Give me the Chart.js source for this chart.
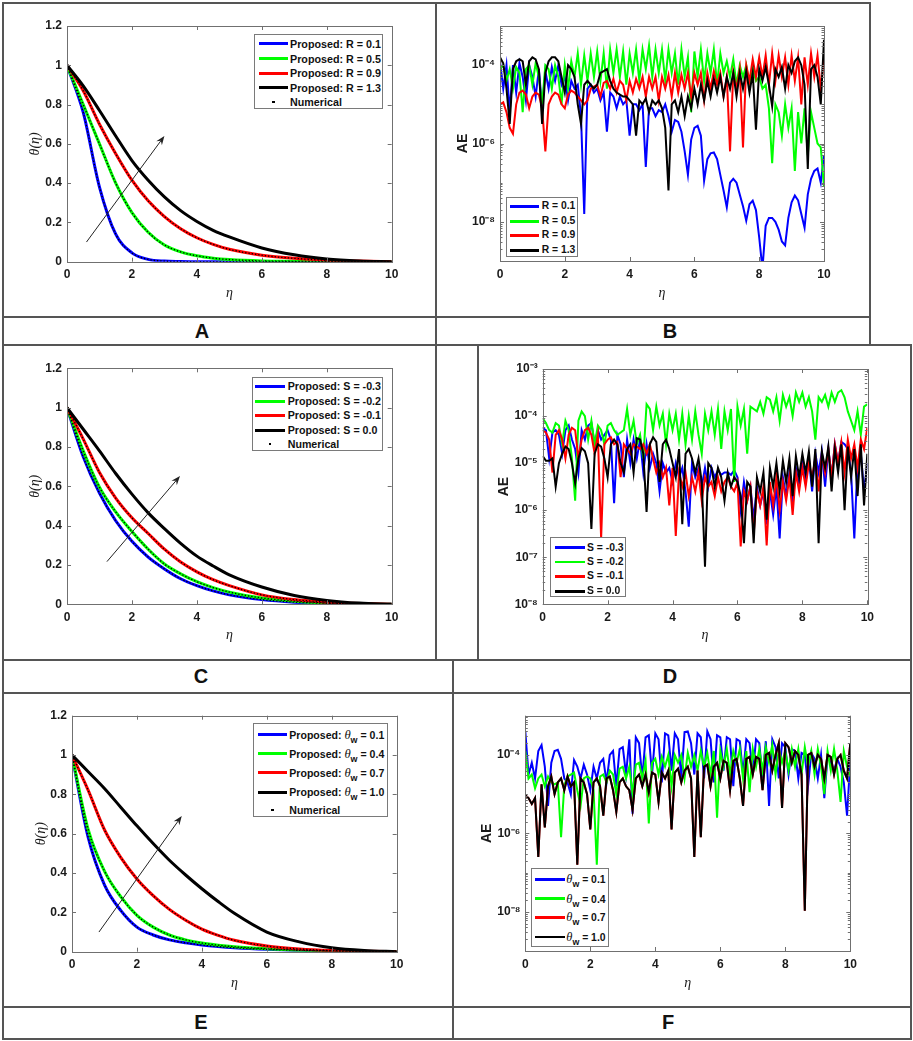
<!DOCTYPE html>
<html>
<head>
<meta charset="utf-8">
<script src="https://cdn.jsdelivr.net/npm/chart.js@4.4.1/dist/chart.umd.min.js"></script>
<style>
html, body { margin: 0; padding: 0; background: #fff; }
#fig { position: relative; width: 913px; height: 1041px; overflow: hidden; background: #fff; }
.ln { position: absolute; background: #555; }
.lab { position: absolute; font: bold 20px 'Liberation Sans', Arial, sans-serif; color: #111; transform: translate(-50%, -50%); }
canvas { position: absolute; }
.leg { position: absolute; background: #fff; border: 1px solid #7a7a7a; box-sizing: border-box; }
.leg .row { position: absolute; left: 0; right: 0; height: 14px; }
.leg .sw { position: absolute; }
.leg .tx { position: absolute; top: 0; line-height: 14px; font-family: 'Liberation Sans', Arial, sans-serif; font-weight: bold; font-size: 10.5px; font-stretch: normal; color: #111; white-space: nowrap; }
.leg .tx i { font-family: 'Liberation Serif', serif; font-weight: normal; font-size: 1.2em; }
.leg .tx sub { font-size: 0.85em; vertical-align: -0.45em; line-height: 0; }
</style>
</head>
<body>
<div id="fig">
  <canvas id="cA" width="428" height="310" style="left:4px;top:4px"></canvas>
  <canvas id="cB" width="430" height="310" style="left:437px;top:4px"></canvas>
  <canvas id="cC" width="428" height="311" style="left:4px;top:346px"></canvas>
  <canvas id="cD" width="429" height="311" style="left:479px;top:346px"></canvas>
  <canvas id="cE" width="446" height="310" style="left:4px;top:694px"></canvas>
  <canvas id="cF" width="454" height="310" style="left:454px;top:694px"></canvas>
</div>
<script>
// ---- data ----
const seriesColors = ['#0000ff', '#00ff00', '#ff0000', '#000000'];
const etaTicks = [0, 2, 4, 6, 8, 10];
const thetaTicks = [0, 0.2, 0.4, 0.6, 0.8, 1, 1.2];
const aeTicksBF = [-8, -6, -4];          // exponents of 10
const aeTicksD = [-8, -7, -6, -5, -4, -3];

// theta profiles, sampled at etaTheta
const etaTheta = [0, 0.5, 1, 1.5, 2, 2.5, 3, 3.5, 4, 4.5, 5, 6, 7, 8, 9, 10];
const thetaR01 = [1, 0.76, 0.38, 0.14, 0.045, 0.012, 0.003, 0.001, 0, 0, 0, 0, 0, 0, 0, 0];
const thetaR05 = [1, 0.80, 0.60, 0.40, 0.25, 0.15, 0.085, 0.05, 0.03, 0.018, 0.011, 0.004, 0.002, 0.001, 0, 0];
const thetaR09 = [1, 0.87, 0.70, 0.55, 0.415, 0.31, 0.23, 0.168, 0.122, 0.088, 0.063, 0.033, 0.017, 0.008, 0.003, 0];
const thetaR13 = [1, 0.895, 0.77, 0.64, 0.515, 0.415, 0.33, 0.26, 0.205, 0.16, 0.126, 0.07, 0.035, 0.014, 0.004, 0];

const thetaSm03 = [1, 0.75, 0.565, 0.425, 0.32, 0.24, 0.18, 0.13, 0.095, 0.068, 0.048, 0.024, 0.011, 0.005, 0.002, 0];
const thetaSm02 = [1, 0.78, 0.595, 0.47, 0.37, 0.28, 0.205, 0.155, 0.115, 0.085, 0.062, 0.032, 0.016, 0.007, 0.002, 0];
const thetaSm01 = [1, 0.84, 0.67, 0.54, 0.44, 0.36, 0.28, 0.215, 0.165, 0.125, 0.095, 0.048, 0.024, 0.011, 0.004, 0];
const thetaS00  = [1, 0.89, 0.78, 0.665, 0.56, 0.465, 0.385, 0.31, 0.245, 0.195, 0.15, 0.088, 0.045, 0.02, 0.006, 0];

const thetaW01 = [1, 0.58, 0.34, 0.21, 0.125, 0.085, 0.06, 0.045, 0.034, 0.026, 0.02, 0.012, 0.007, 0.003, 0.001, 0];
const thetaW04 = [1, 0.62, 0.41, 0.28, 0.185, 0.125, 0.085, 0.06, 0.044, 0.033, 0.025, 0.015, 0.008, 0.004, 0.001, 0];
const thetaW07 = [1, 0.82, 0.62, 0.48, 0.37, 0.285, 0.215, 0.16, 0.115, 0.083, 0.058, 0.029, 0.014, 0.006, 0.002, 0];
const thetaW10 = [1, 0.915, 0.83, 0.735, 0.64, 0.55, 0.465, 0.39, 0.32, 0.255, 0.195, 0.1, 0.05, 0.02, 0.006, 0];

// absolute errors, stored as log10(AE), sampled at etaAE
const etaAE = [0,0.1,0.2,0.3,0.4,0.5,0.6,0.7,0.8,0.9,1,1.1,1.2,1.3,1.4,1.5,1.6,1.7,1.8,1.9,
  2,2.1,2.2,2.3,2.4,2.5,2.6,2.7,2.8,2.9,3,3.1,3.2,3.3,3.4,3.5,3.6,3.7,3.8,3.9,
  4,4.1,4.2,4.3,4.4,4.5,4.6,4.7,4.8,4.9,5,5.1,5.2,5.3,5.4,5.5,5.6,5.7,5.8,5.9,
  6,6.1,6.2,6.3,6.4,6.5,6.6,6.7,6.8,6.9,7,7.1,7.2,7.3,7.4,7.5,7.6,7.7,7.8,7.9,
  8,8.1,8.2,8.3,8.4,8.5,8.6,8.7,8.8,8.9,9,9.1,9.2,9.3,9.4,9.5,9.6,9.7,9.8,9.9,10];

const aeR01 = [-3.9,-4.6,-4.0,-5.2,-4.0,-4.7,-3.95,-4.3,-4.9,-4.0,
  -4.3,-4.8,-4.1,-5.1,-4.15,-4.6,-4.05,-4.4,-4.0,-4.5,
  -4.3,-4.9,-4.4,-4.6,-4.5,-5.3,-7.8,-4.6,-4.5,-4.7,
  -4.6,-4.9,-4.7,-5.7,-4.7,-4.8,-5.1,-4.8,-5.0,-4.9,
  -5.8,-5.0,-5.0,-5.15,-5.0,-6.6,-5.1,-5.1,-5.3,-5.15,
  -5.2,-5.0,-5.3,-5.7,-5.4,-5.45,-5.7,-6.2,-6.8,-5.9,
  -5.6,-5.55,-5.8,-6.95,-6.4,-6.25,-6.23,-6.4,-6.8,-7.2,
  -7.63,-7.0,-6.9,-7.0,-7.3,-7.6,-7.97,-7.55,-7.46,-7.7,
  -8.4,-9.2,-8.1,-7.9,-7.9,-8.0,-8.2,-8.5,-8.6,-7.9,
  -7.5,-7.33,-7.45,-7.8,-8.15,-7.3,-6.9,-6.7,-6.64,-7.0,-6.3];
const aeR05 = [-4.1,-4.0,-4.4,-4.1,-4.6,-4.05,-4.2,-5.2,-4.1,-4.0,
  -4.5,-3.95,-4.3,-5.0,-4.0,-4.1,-4.6,-4.0,-4.3,-5.0,
  -4.0,-4.6,-3.9,-4.3,-3.7,-4.5,-3.75,-4.4,-3.7,-4.3,
  -3.65,-4.4,-3.7,-4.6,-3.6,-4.2,-3.6,-4.3,-3.65,-4.5,
  -3.7,-4.2,-3.6,-4.4,-3.6,-4.1,-3.5,-4.3,-3.6,-4.2,
  -3.6,-4.4,-3.6,-4.2,-3.7,-4.5,-3.6,-4.3,-3.8,-5.2,
  -3.65,-4.3,-3.6,-4.4,-3.7,-4.2,-3.6,-4.5,-3.7,-4.2,
  -3.9,-4.3,-3.85,-4.5,-4.0,-4.3,-4.0,-4.6,-4.1,-4.4,
  -4.3,-4.6,-4.5,-5.1,-6.5,-5.0,-5.2,-5.8,-5.0,-5.6,
  -5.1,-6.7,-5.2,-6.0,-5.1,-6.3,-5.2,-5.6,-6.0,-6.1,-7.1];
const aeR09 = [-5.0,-4.95,-5.2,-5.6,-5.75,-5.0,-4.7,-4.65,-4.75,-5.1,
  -4.8,-4.7,-4.75,-5.1,-6.2,-5.0,-4.8,-4.7,-4.75,-5.0,
  -5.1,-4.75,-4.65,-4.7,-4.8,-4.9,-5.0,-4.9,-4.6,-4.55,
  -4.5,-4.8,-4.45,-4.4,-4.6,-4.35,-4.7,-4.4,-4.5,-4.9,
  -4.4,-4.7,-4.35,-4.6,-4.3,-4.8,-4.3,-4.6,-4.3,-4.9,
  -4.3,-4.6,-4.25,-4.8,-4.2,-4.7,-4.25,-4.6,-4.2,-4.8,
  -4.2,-4.5,-4.2,-4.9,-4.2,-4.6,-4.15,-4.5,-4.2,-4.8,
  -4.3,-6.2,-4.2,-4.6,-4.1,-6.1,-4.0,-4.4,-3.85,-4.3,
  -3.8,-4.3,-3.75,-4.5,-3.7,-4.4,-3.75,-4.3,-3.8,-4.5,
  -3.75,-4.4,-3.8,-5.0,-3.8,-4.5,-3.7,-4.3,-3.75,-4.6,-3.85];
const aeR13 = [-3.8,-3.95,-4.6,-5.5,-4.1,-3.9,-3.85,-3.9,-4.5,-3.9,
  -3.8,-3.85,-4.1,-5.5,-4.2,-3.9,-3.8,-3.8,-3.9,-4.3,
  -4.7,-4.0,-4.1,-4.3,-5.0,-5.5,-4.5,-4.4,-4.5,-4.6,
  -4.5,-4.2,-4.15,-4.1,-4.4,-4.6,-4.7,-4.75,-4.8,-4.8,
  -4.9,-5.0,-5.8,-4.9,-5.0,-4.85,-5.2,-4.9,-5.0,-4.9,
  -5.1,-5.6,-7.2,-5.0,-4.9,-5.2,-4.8,-5.3,-4.8,-5.1,
  -4.6,-5.0,-4.5,-4.9,-4.4,-4.8,-4.35,-4.7,-4.3,-4.8,
  -4.3,-4.6,-4.2,-4.8,-4.2,-4.6,-4.15,-4.7,-4.2,-5.65,
  -4.1,-4.4,-4.05,-4.5,-5.05,-4.1,-4.3,-4.05,-4.6,-4.0,
  -4.2,-3.9,-3.8,-4.0,-4.5,-6.65,-4.1,-4.0,-4.3,-5.0,-3.35];

const aeSm03 = [-4.25,-4.3,-4.9,-4.35,-4.3,-4.4,-4.8,-4.3,-4.2,-4.5,
  -4.7,-5.2,-4.3,-4.5,-4.2,-4.15,-4.6,-4.3,-4.5,-4.4,
  -4.3,-4.5,-5.85,-4.4,-4.6,-5.3,-4.5,-5.0,-4.5,-4.9,
  -4.5,-5.2,-4.6,-5.1,-4.8,-5.0,-5.6,-5.0,-5.2,-5.1,
  -5.4,-5.0,-5.3,-5.1,-5.6,-6.35,-5.0,-5.3,-5.1,-5.5,
  -5.1,-5.5,-5.1,-5.3,-5.15,-5.25,-5.2,-5.2,-5.25,-5.15,
  -5.3,-6.0,-5.4,-5.8,-5.5,-6.2,-5.5,-5.9,-5.6,-6.3,
  -5.6,-6.1,-5.5,-6.6,-5.3,-5.7,-5.2,-5.9,-5.1,-5.5,
  -5.0,-5.4,-4.9,-5.6,-4.8,-5.2,-4.75,-5.5,-4.7,-5.3,
  -4.6,-5.0,-4.55,-4.6,-4.7,-5.2,-6.6,-5.0,-4.8,-5.6,-5.0];
const aeSm02 = [-4.05,-4.15,-4.3,-4.35,-4.15,-4.2,-4.6,-4.1,-4.3,-4.9,
  -5.8,-4.1,-3.9,-4.0,-4.5,-4.1,-4.6,-4.2,-4.3,-4.6,
  -4.2,-4.15,-4.3,-4.4,-4.35,-4.3,-3.85,-4.4,-4.1,-4.6,
  -4.4,-4.9,-3.75,-3.85,-4.3,-3.8,-4.2,-3.95,-4.6,-3.95,
  -4.3,-3.95,-4.5,-3.95,-4.6,-4.0,-4.5,-3.9,-4.4,-4.8,
  -3.95,-4.3,-3.9,-4.4,-3.85,-4.7,-3.9,-4.3,-3.85,-5.4,
  -3.8,-4.2,-3.85,-4.8,-3.8,-3.85,-3.9,-3.7,-3.95,-3.6,
  -3.65,-3.9,-3.6,-4.1,-3.55,-3.8,-3.6,-4.0,-3.5,-3.7,
  -3.5,-3.8,-3.6,-3.9,-4.5,-3.6,-3.7,-3.55,-3.8,-3.5,
  -3.7,-3.5,-3.45,-3.6,-3.9,-4.1,-4.3,-3.9,-4.4,-3.8,-3.75];
const aeSm01 = [-4.3,-4.35,-4.5,-5.2,-4.4,-4.3,-4.5,-4.9,-4.4,-4.25,
  -4.3,-4.9,-4.5,-4.3,-4.25,-4.4,-4.8,-4.4,-6.6,-4.6,
  -4.5,-4.45,-4.6,-4.55,-5.3,-4.6,-4.7,-4.8,-4.6,-4.65,
  -4.7,-4.6,-4.8,-4.6,-4.9,-5.2,-5.0,-5.3,-5.1,-5.9,
  -5.1,-6.55,-5.2,-5.5,-5.2,-5.7,-5.3,-5.6,-5.2,-5.8,
  -5.3,-5.5,-5.4,-5.7,-5.3,-5.6,-5.4,-5.3,-5.5,-5.6,
  -5.4,-6.77,-5.6,-5.8,-5.5,-6.5,-5.6,-5.9,-5.5,-6.75,
  -5.4,-5.9,-5.3,-6.0,-5.4,-5.8,-5.3,-6.1,-5.2,-5.6,
  -5.1,-5.5,-5.0,-5.3,-4.9,-5.6,-4.8,-5.2,-4.7,-5.3,
  -4.6,-5.0,-4.55,-5.2,-4.5,-4.9,-4.6,-5.1,-4.5,-4.7,-4.25];
const aeS00 = [-4.85,-4.95,-4.95,-4.9,-5.5,-5.0,-4.8,-4.65,-4.7,-5.0,
  -5.43,-4.9,-4.68,-4.75,-5.0,-6.4,-4.8,-4.6,-4.65,-4.9,
  -5.3,-4.6,-4.5,-4.6,-5.0,-5.2,-4.7,-4.6,-5.2,-4.47,
  -4.5,-4.8,-6.04,-4.6,-4.45,-4.55,-5.4,-4.6,-4.5,-4.7,
  -5.0,-5.3,-4.7,-6.3,-4.8,-4.7,-4.9,-5.2,-4.9,-5.4,
  -7.2,-5.0,-5.1,-5.5,-5.1,-5.3,-5.8,-5.2,-5.5,-5.3,
  -5.4,-5.7,-6.7,-5.4,-5.5,-6.7,-5.3,-5.6,-5.2,-6.2,
  -5.1,-5.5,-5.0,-5.6,-4.95,-5.4,-4.9,-5.7,-4.85,-5.3,
  -4.8,-5.2,-4.75,-5.5,-4.7,-6.7,-4.75,-5.1,-4.65,-5.6,
  -4.7,-5.2,-4.6,-6.0,-4.65,-5.3,-4.7,-5.7,-4.6,-5.9,-4.8];

const aeW01 = [-3.4,-4.5,-4.2,-4.6,-3.9,-3.75,-4.3,-5.3,-4.2,-3.9,
  -3.87,-4.1,-4.6,-4.7,-5.0,-4.13,-4.3,-4.6,-4.25,-4.5,
  -4.9,-4.3,-4.6,-4.2,-4.1,-4.7,-4.0,-3.9,-4.8,-3.85,
  -3.8,-4.5,-3.6,-5.5,-3.55,-3.7,-4.6,-3.55,-3.5,-4.5,
  -3.45,-3.6,-4.7,-3.45,-3.5,-4.4,-3.45,-3.6,-4.6,-3.42,
  -3.4,-3.7,-4.5,-3.45,-3.55,-4.6,-3.4,-3.6,-4.7,-3.5,
  -3.55,-4.4,-3.55,-3.6,-4.8,-3.6,-3.65,-4.5,-3.6,-3.7,
  -4.5,-3.6,-3.7,-4.6,-3.65,-5.3,-3.6,-3.8,-4.6,-3.7,
  -3.8,-4.5,-3.85,-3.9,-4.6,-3.95,-4.0,-4.8,-3.95,-4.1,
  -4.6,-4.0,-5.1,-4.05,-4.2,-4.4,-4.1,-4.3,-4.7,-5.55,-4.13];
const aeW04 = [-3.9,-4.6,-4.5,-4.85,-4.6,-4.5,-4.8,-4.55,-4.7,-4.75,
  -4.7,-6.1,-4.77,-4.55,-4.5,-4.45,-4.9,-5.3,-4.6,-4.55,
  -4.6,-4.9,-6.8,-4.55,-4.5,-4.7,-4.4,-4.5,-5.0,-4.35,
  -4.3,-4.6,-4.3,-5.0,-4.25,-4.2,-4.6,-4.15,-5.75,-4.2,
  -4.1,-4.5,-4.05,-4.3,-4.0,-4.8,-4.0,-4.2,-4.0,-4.6,
  -3.95,-4.3,-4.0,-4.4,-3.9,-4.3,-3.95,-4.5,-3.9,-5.6,
  -3.9,-4.3,-3.85,-4.5,-3.9,-4.2,-3.85,-4.6,-3.9,-4.95,
  -3.85,-4.3,-3.85,-4.4,-3.8,-4.2,-3.75,-4.5,-3.85,-4.2,
  -3.9,-4.4,-3.85,-4.3,-3.85,-4.5,-3.8,-4.3,-3.9,-4.5,
  -3.85,-4.3,-5.0,-3.9,-4.4,-3.85,-4.4,-5.2,-3.9,-4.3,-4.55];
const aeW10 = [-5.03,-5.1,-5.25,-5.1,-6.6,-4.75,-5.85,-4.8,-4.55,-5.0,
  -4.7,-4.6,-4.9,-4.55,-4.8,-4.7,-6.8,-4.6,-4.7,-5.0,
  -5.9,-4.7,-4.6,-4.8,-5.55,-4.6,-4.55,-4.9,-5.45,-4.7,
  -4.6,-4.8,-4.9,-5.4,-4.6,-4.5,-4.8,-4.5,-4.95,-4.45,
  -4.5,-5.2,-4.45,-4.6,-4.4,-5.9,-4.45,-4.35,-4.7,-4.4,
  -4.3,-4.6,-6.6,-4.4,-6.1,-4.3,-4.25,-4.8,-4.3,-4.2,
  -4.6,-4.15,-4.2,-4.9,-4.15,-4.1,-4.6,-5.3,-4.1,-4.05,
  -4.5,-4.05,-4.1,-4.9,-4.0,-3.95,-4.4,-4.0,-3.7,-5.35,
  -3.7,-3.8,-4.2,-3.9,-4.0,-4.5,-7.97,-4.0,-3.95,-4.3,
  -4.0,-4.1,-4.6,-4.0,-4.05,-4.5,-4.1,-4.0,-4.4,-4.6,-3.7];
const aeW07 = aeW10; // red curve lies under the black one in the figure

const legendA = ['Proposed: R = 0.1', 'Proposed: R = 0.5', 'Proposed: R = 0.9', 'Proposed: R = 1.3', 'Numerical'];
const legendB = ['R = 0.1', 'R = 0.5', 'R = 0.9', 'R = 1.3'];
const legendC = ['Proposed: S = -0.3', 'Proposed: S = -0.2', 'Proposed: S = -0.1', 'Proposed: S = 0.0', 'Numerical'];
const legendD = ['S = -0.3', 'S = -0.2', 'S = -0.1', 'S = 0.0'];
const legendE = ['Proposed: <i>θ</i><sub>w</sub> = 0.1', 'Proposed: <i>θ</i><sub>w</sub> = 0.4',
  'Proposed: <i>θ</i><sub>w</sub> = 0.7', 'Proposed: <i>θ</i><sub>w</sub> = 1.0', 'Numerical'];
const legendF = ['<i>θ</i><sub>w</sub> = 0.1', '<i>θ</i><sub>w</sub> = 0.4', '<i>θ</i><sub>w</sub> = 0.7', '<i>θ</i><sub>w</sub> = 1.0'];

// arrow annotations in data units [start, end]
const arrowA = [[0.6, 0.1], [3.0, 0.64]];
const arrowC = [[1.23, 0.217], [3.48, 0.652]];
const arrowE = [[0.83, 0.10], [3.38, 0.69]];

// ---- drawing ----
const ink = '#1a1a1a';
const tickFont = { family: "'Liberation Sans', Arial, sans-serif", size: 12, weight: 'bold' };
const serifTitle = { family: "'Liberation Serif', serif", size: 14, style: 'italic' };
const aeTitle = { family: "'Liberation Sans', Arial, sans-serif", size: 14, weight: 'bold' };
const supMap = { '-': '⁻', '0': '⁰', '1': '¹', '2': '²', '3': '³', '4': '⁴', '5': '⁵', '6': '⁶', '7': '⁷', '8': '⁸', '9': '⁹' };
const sup = n => String(n).split('').map(c => supMap[c]).join('');

const axesBox = {
  id: 'axesBox',
  afterDatasetsDraw(chart, args, opts) {
    const { ctx, chartArea: a, scales: { x, y } } = chart;
    ctx.save();
    ctx.strokeStyle = '#707070';
    ctx.lineWidth = 1;
    ctx.strokeRect(Math.round(a.left) + 0.5, Math.round(a.top) + 0.5,
      Math.round(a.right - a.left), Math.round(a.bottom - a.top));
    ctx.beginPath();
    x.ticks.forEach(t => {
      const p = Math.round(x.getPixelForValue(t.value)) + 0.5;
      ctx.moveTo(p, a.bottom); ctx.lineTo(p, a.bottom - 4);
      ctx.moveTo(p, a.top); ctx.lineTo(p, a.top + 4);
    });
    y.ticks.forEach(t => {
      const p = Math.round(y.getPixelForValue(t.value)) + 0.5;
      ctx.moveTo(a.left, p); ctx.lineTo(a.left + 4, p);
      ctx.moveTo(a.right, p); ctx.lineTo(a.right - 4, p);
    });
    if (opts.minor) {
      const major = y.ticks.map(t => Math.round(Math.log10(t.value) * 100));
      for (let e = Math.floor(Math.log10(y.min)); e < Math.ceil(Math.log10(y.max)); e++) {
        for (let k = 1; k < 10; k++) {
          const v = k * Math.pow(10, e);
          if (v <= y.min * 1.0001 || v >= y.max * 0.9999) continue;
          if (k === 1 && major.includes(e * 100)) continue;
          const p = Math.round(y.getPixelForValue(v)) + 0.5;
          ctx.moveTo(a.left, p); ctx.lineTo(a.left + 2.5, p);
          ctx.moveTo(a.right, p); ctx.lineTo(a.right - 2.5, p);
        }
      }
    }
    ctx.stroke();
    if (opts.arrow) {
      const [p0, p1] = opts.arrow;
      const x0 = x.getPixelForValue(p0[0]), y0 = y.getPixelForValue(p0[1]);
      const x1 = x.getPixelForValue(p1[0]), y1 = y.getPixelForValue(p1[1]);
      const ang = Math.atan2(y1 - y0, x1 - x0);
      const c = Math.cos(ang), s = Math.sin(ang);
      ctx.strokeStyle = '#222';
      ctx.fillStyle = '#222';
      ctx.lineWidth = 1;
      ctx.beginPath();
      ctx.moveTo(x0, y0);
      ctx.lineTo(x1 - 6 * c, y1 - 6 * s);
      ctx.stroke();
      ctx.beginPath();
      ctx.moveTo(x1, y1);
      ctx.lineTo(x1 - 9 * c + 3.5 * s, y1 - 9 * s - 3.5 * c);
      ctx.lineTo(x1 - 6 * c, y1 - 6 * s);
      ctx.lineTo(x1 - 9 * c - 3.5 * s, y1 - 9 * s + 3.5 * c);
      ctx.closePath();
      ctx.fill();
    }
    ctx.restore();
  }
};

function xScale(lay) {
  return {
    type: 'linear', min: 0, max: 10,
    afterBuildTicks: s => { s.ticks = etaTicks.map(v => ({ value: v })); },
    afterFit: s => { s.height = lay.xh; },
    grid: { display: false, drawTicks: false },
    border: { display: false },
    ticks: { font: tickFont, color: ink, padding: 6, maxRotation: 0, callback: v => String(v) },
    title: { display: true, text: 'η', font: serifTitle, color: ink, padding: { top: 0, bottom: lay.tb } }
  };
}

function baseOptions(lay, yScale, pluginOpts) {
  return {
    responsive: false, animation: false, events: [],
    layout: { padding: { top: lay.pt, right: lay.pr, left: 0, bottom: 0 } },
    scales: { x: xScale(lay), y: yScale },
    plugins: { legend: { display: false }, tooltip: { enabled: false }, axesBox: pluginOpts }
  };
}

function thetaChart(id, series, arrow, lay) {
  const datasets = [];
  series.forEach((vals, i) => datasets.push({
    data: etaTheta.map((x, j) => ({ x, y: vals[j] })),
    borderColor: seriesColors[i], borderWidth: 3, pointRadius: 0,
    cubicInterpolationMode: 'monotone', order: 4 - i
  }));
  series.forEach(vals => datasets.push({
    data: etaTheta.map((x, j) => ({ x, y: vals[j] })),
    borderColor: '#000', borderWidth: 1.3, borderDash: [1.3, 2], pointRadius: 0,
    cubicInterpolationMode: 'monotone', order: -1
  }));
  const yScale = {
    type: 'linear', min: 0, max: 1.2,
    afterBuildTicks: s => { s.ticks = thetaTicks.map(v => ({ value: v })); },
    afterFit: s => { s.width = lay.yw; },
    grid: { display: false, drawTicks: false },
    border: { display: false },
    ticks: { font: tickFont, color: ink, padding: 5, callback: v => String(v) },
    title: { display: true, text: 'θ(η)', font: serifTitle, color: ink, padding: { top: lay.tl, bottom: 0 } }
  };
  new Chart(document.getElementById(id), {
    type: 'line', data: { datasets }, options: baseOptions(lay, yScale, { arrow, minor: false }), plugins: [axesBox]
  });
}

function aeChart(id, series, yMin, yMax, tickExps, lay) {
  const datasets = series.map((vals, i) => ({
    data: etaAE.map((x, j) => ({ x, y: Math.pow(10, vals[j]) })),
    borderColor: seriesColors[i], borderWidth: 2, pointRadius: 0, tension: 0, order: 4 - i
  }));
  const yScale = {
    type: 'logarithmic', min: yMin, max: yMax,
    afterBuildTicks: s => { s.ticks = tickExps.map(e => ({ value: Math.pow(10, e) })); },
    afterFit: s => { s.width = lay.yw; },
    grid: { display: false, drawTicks: false },
    border: { display: false },
    ticks: { font: tickFont, color: ink, padding: 5, callback: v => '10' + sup(Math.round(Math.log10(v))) },
    title: { display: true, text: 'AE', font: aeTitle, color: ink, padding: { top: lay.tl, bottom: 0 } }
  };
  new Chart(document.getElementById(id), {
    type: 'line', data: { datasets }, options: baseOptions(lay, yScale, { minor: true }), plugins: [axesBox]
  });
}

thetaChart('cA', [thetaR01, thetaR05, thetaR09, thetaR13], arrowA,
  { pt: 22, pr: 40.3, yw: 63, xh: 52.3, tl: 22.6, tb: 12.6 });
aeChart('cB', [aeR01, aeR05, aeR09, aeR13], 1e-9, 1e-3, aeTicksBF,
  { pt: 22, pr: 43, yw: 63, xh: 53, tl: 17.9, tb: 12.6 });
thetaChart('cC', [thetaSm03, thetaSm02, thetaSm01, thetaS00], arrowC,
  { pt: 22.3, pr: 40.3, yw: 63, xh: 52.7, tl: 22.6, tb: 13.6 });
aeChart('cD', [aeSm03, aeSm02, aeSm01, aeS00], 1e-8, 1e-3, aeTicksD,
  { pt: 23, pr: 40.7, yw: 63.7, xh: 52.7, tl: 16.9, tb: 13.6 });
thetaChart('cE', [thetaW01, thetaW04, thetaW07, thetaW10], arrowE,
  { pt: 21.7, pr: 53.3, yw: 68, xh: 52.3, tl: 29.3, tb: 12.3 });
aeChart('cF', [aeW01, aeW04, aeW07, aeW10], 1e-9, 1e-3, aeTicksBF,
  { pt: 21.7, pr: 57.7, yw: 71.3, xh: 53, tl: 24.6, tb: 12.3 });

// ---- figure frame, panel letters, legends ----
const fig = document.getElementById('fig');
[[2, 2, 867, 1.5], [2, 2, 1.5, 1037], [435, 2, 1.5, 658], [869, 2, 1.5, 343],
 [2, 316, 868, 1.5], [2, 344, 909.5, 1.5], [477, 344, 1.5, 316], [910, 344, 1.5, 695.5],
 [2, 659, 909.5, 1.5], [452, 659, 1.5, 380], [2, 692, 909.5, 1.5], [2, 1005.5, 909.5, 2],
 [2, 1038, 909.5, 1.5]].forEach(([l, t, w, h]) => {
  const d = document.createElement('div');
  d.className = 'ln';
  d.style.cssText = `left:${l}px;top:${t}px;width:${w}px;height:${h}px`;
  fig.appendChild(d);
});

[['A', 202, 331], ['B', 670, 331], ['C', 201, 676], ['D', 670, 676], ['E', 201, 1022], ['F', 668, 1022]]
  .forEach(([s, x, y]) => {
    const d = document.createElement('div');
    d.className = 'lab';
    d.textContent = s;
    d.style.left = x + 'px';
    d.style.top = y + 'px';
    fig.appendChild(d);
  });

// box: [left, top, width, height]; rows: centre y of each entry; sw: swatch x range;
// textW: width the first entry's text takes in the figure
function legend(names, box, rows, sw, textX, lw, textW) {
  const el = document.createElement('div');
  el.className = 'leg';
  el.style.cssText = `left:${box[0]}px;top:${box[1]}px;width:${box[2]}px;height:${box[3]}px`;
  const texts = [];
  names.forEach((name, i) => {
    const r = document.createElement('div');
    r.className = 'row';
    r.style.top = (rows[i] - 7) + 'px';
    const s = document.createElement('span');
    s.className = 'sw';
    if (i < 4) {
      s.style.cssText = `left:${sw[0]}px;width:${sw[1] - sw[0]}px;top:${7 - lw / 2}px;height:${lw}px;background:${seriesColors[i]}`;
    } else {
      const c = (sw[0] + sw[1]) / 2;
      s.style.cssText = `left:${c - 1.2}px;width:2.4px;top:5.8px;height:2.4px;background:#000`;
    }
    const t = document.createElement('span');
    t.className = 'tx';
    t.style.left = textX + 'px';
    t.innerHTML = name;
    r.appendChild(s);
    r.appendChild(t);
    el.appendChild(r);
    texts.push(t);
  });
  fig.appendChild(el);
  const w = texts[0].getBoundingClientRect().width;
  if (w > 0) {
    const fs = Math.max(8, Math.min(16, 10.5 * textW / w));
    texts.forEach(t => { t.style.fontSize = fs.toFixed(2) + 'px'; });
  }
}

legend(legendA, [254, 34, 129, 75], [8.7, 23.7, 38, 52.7, 67], [4, 33], 35, 3, 91);
legend(legendB, [506, 197, 72, 60], [8.3, 23.3, 37.3, 52.3], [3, 31.7], 34.7, 2.5, 33.6);
legend(legendC, [252, 377, 131, 74], [8, 23, 37.3, 52.3, 66.3], [2, 32], 34.7, 3, 93.3);
legend(legendD, [550, 537, 76, 60], [9.7, 24, 38.3, 53.3], [4, 34], 36, 2.5, 36.7);
legend(legendE, [253, 723, 135, 94], [10.7, 29.7, 48.7, 68, 86], [3.7, 33], 35.3, 3, 95);
legend(legendF, [531, 868, 78, 79], [10.3, 29.7, 48.3, 68], [3, 32.7], 34.3, 2.5, 39.3);
</script>
</body>
</html>
